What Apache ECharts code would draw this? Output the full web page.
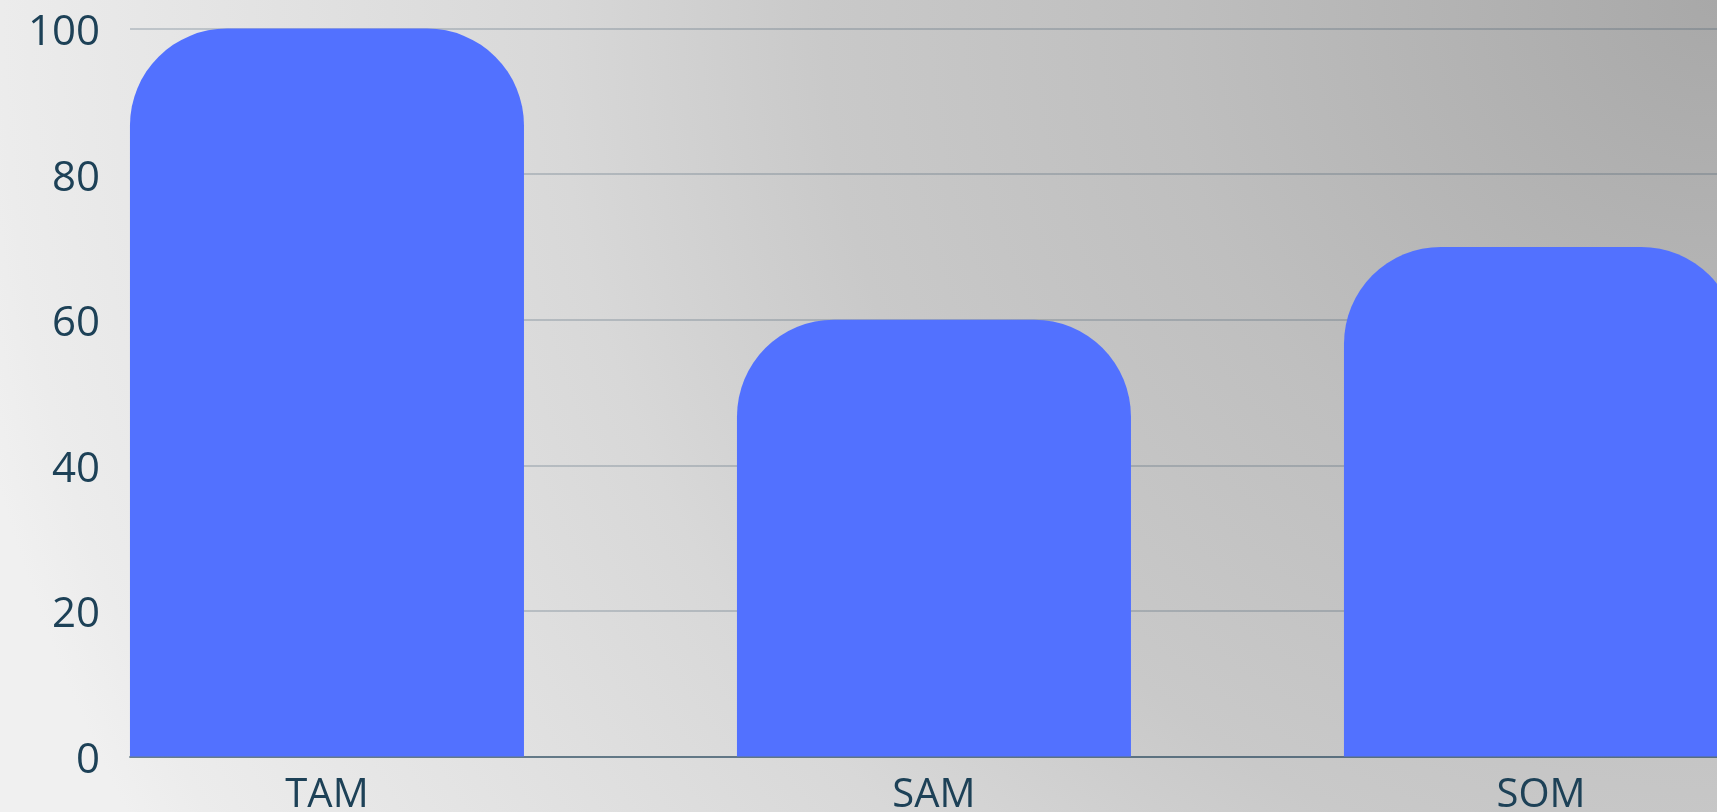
<!DOCTYPE html>
<html>
<head>
<meta charset="utf-8">
<script src="https://cdn.jsdelivr.net/npm/echarts@6/dist/echarts.min.js"></script>
<style>
  html, body { margin: 0; padding: 0; width: 100%; height: 100%; overflow: hidden; }
  #chart { width: 1717px; height: 812px; }
</style>
</head>
<body>
<div id="chart"></div>
<script>
const categories = ['TAM', 'SAM', 'SOM'];
const values = [100, 60, 70];
const yMin = 0;
const yMax = 100;
const yInterval = 20;

const textColor = '#1d4157';
const chart = echarts.init(document.getElementById('chart'), null, { renderer: 'canvas' });

const option = {
  backgroundColor: {
    type: 'radial', x: 1, y: 0, r: 2.2,
    colorStops: [
      { offset: 0, color: '#a8a8a8' },
      { offset: 0.31, color: '#bfbfbf' },
      { offset: 0.5, color: '#c9c9c9' },
      { offset: 0.65, color: '#d8d8d8' },
      { offset: 0.96, color: '#ececec' },
      { offset: 1, color: '#f0f0f0' }
    ]
  },
  animation: false,
  grid: { left: 130, right: 0, top: 28.5, bottom: 55.5, containLabel: false, outerBoundsMode: 'none' },
  xAxis: {
    type: 'value',
    min: -0.3245,
    max: 2.29,
    splitLine: { show: false },
    axisTick: { show: false },
    axisLine: { show: true, lineStyle: { color: 'rgba(30,63,85,0.55)', width: 2 } },
    axisLabel: {
      customValues: categories.map((c, i) => i),
      formatter: v => categories[Math.round(v)] || '',
      color: textColor,
      fontFamily: 'Open Sans',
      fontSize: 40,
      margin: 19
    }
  },
  yAxis: {
    type: 'value',
    min: yMin,
    max: yMax,
    interval: yInterval,
    axisLine: { show: false },
    axisTick: { show: false },
    splitLine: { show: true, lineStyle: { color: 'rgba(30,63,85,0.27)', width: 1.5 } },
    axisLabel: {
      color: textColor,
      fontFamily: 'Open Sans',
      fontSize: 42,
      margin: 30,
      verticalAlign: 'top',
      lineHeight: 9
    }
  },
  series: [{
    type: 'bar',
    data: categories.map((c, i) => [i, values[i]]),
    barWidth: 394,
    itemStyle: { color: '#5271ff', borderRadius: [97, 97, 0, 0] }
  }]
};
chart.setOption(option);
</script>
</body>
</html>
